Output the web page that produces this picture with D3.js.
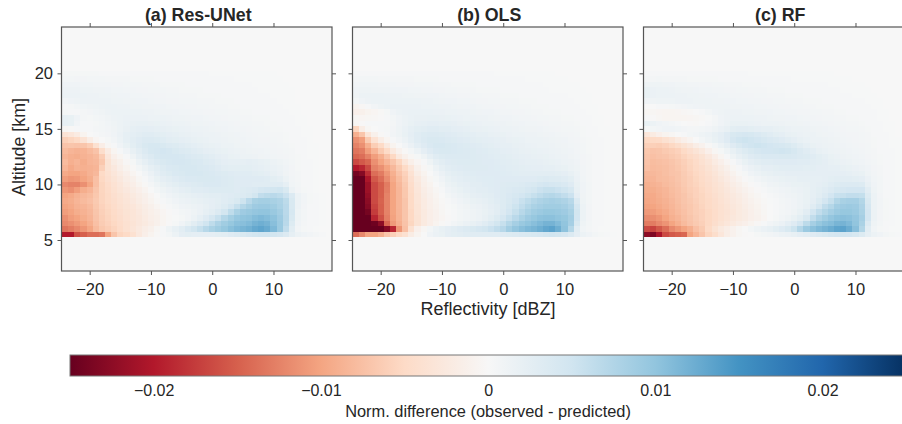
<!DOCTYPE html>
<html>
<head>
<meta charset="utf-8">
<script src="https://cdnjs.cloudflare.com/ajax/libs/d3/7.8.5/d3.min.js"></script>
<style>
  html, body { margin: 0; padding: 0; background: #fff; overflow: hidden; }
  svg { display: block; }
  text { font-family: "Liberation Sans", Arial, sans-serif; fill: #262626; }
</style>
</head>
<body>
<svg id="chart"></svg>
<script>
var panelTitles = ["(a) Res-UNet", "(b) OLS", "(c) RF"];
var xTicks = [-20, -10, 0, 10];
var yTicks = [5, 10, 15, 20];
var cbarTicks = [-0.02, -0.01, 0, 0.01, 0.02];

// cell centres of the heatmaps
var reflectivity = [-24,-23,-22,-21,-20,-19,-18,-17,-16,-15,-14,-13,-12,-11,-10,-9,-8,-7,-6,-5,-4,-3,-2,-1,0,1,2,3,4,5,6,7,8,9,10,11,12,13,14,15,16,17,18,19];
var altitudes = [20,19.5,19,18.5,18,17.5,17,16.5,16,15.5,15,14.5,14,13.5,13,12.5,12,11.5,11,10.5,10,9.5,9,8.5,8,7.5,7,6.5,6,5.5];

// normalised difference x 10^-4, one row per altitude
var resUNet = [
  [4,4,4,4,4,4,3,3,3,3,3,3,3,3,2,2,2,2,2,2,2,2,2,2,1,1,1,1,1,1,1,1,1,1,1,0,0,0,0,0,0,0,0,0],
  [6,6,7,7,6,6,6,5,5,5,5,4,4,4,4,3,3,3,3,3,3,3,2,2,2,2,2,2,1,1,1,1,1,1,1,1,0,0,0,0,0,0,0,0],
  [10,10,10,9,9,8,8,8,7,7,6,6,6,5,5,5,4,4,4,4,3,3,3,3,3,2,2,2,2,2,2,1,1,1,1,1,1,0,0,0,0,0,0,0],
  [13,13,13,12,12,11,11,10,9,9,8,8,7,7,6,6,6,5,5,4,4,4,4,3,3,3,3,2,2,2,2,2,1,1,1,1,1,1,0,0,0,0,0,0],
  [14,14,14,14,13,13,12,12,11,10,10,9,9,8,8,7,7,6,6,5,5,5,4,4,4,4,3,3,3,3,2,2,2,2,1,1,1,1,0,0,0,0,0,0],
  [8,10,12,13,13,13,13,13,12,12,11,11,10,10,9,8,8,7,7,6,6,6,5,5,5,4,4,4,3,3,3,2,2,2,2,1,1,1,0,0,0,0,0,0],
  [2,4,6,9,11,12,13,14,14,13,13,12,12,11,11,10,10,9,8,8,7,7,6,6,5,5,5,4,4,3,3,3,2,2,2,2,1,1,1,0,0,0,0,0],
  [4,3,3,5,7,9,11,13,14,15,15,14,14,13,13,12,11,11,10,9,9,8,8,7,7,6,6,5,5,4,4,3,3,3,2,2,2,1,1,0,0,0,0,0],
  [20,18,10,5,4,6,8,11,13,15,16,16,16,16,15,15,14,13,12,12,11,10,10,9,8,8,7,6,6,5,5,4,4,4,3,3,2,2,1,1,0,0,0,0],
  [20,18,8,2,2,4,6,9,12,14,17,19,20,20,19,18,17,16,15,14,13,12,12,11,10,9,9,8,7,6,6,5,5,4,4,3,3,2,1,1,0,0,0,0],
  [-4,-2,2,2,3,5,6,8,11,15,19,22,24,25,24,22,21,20,18,17,16,15,14,13,12,11,10,9,8,8,7,6,6,5,4,4,3,2,2,1,1,0,0,0],
  [-35,-30,-22,-8,0,3,5,7,10,16,22,25,28,30,30,28,26,24,22,20,19,17,16,15,14,13,12,11,10,9,8,7,6,6,5,5,4,3,2,1,1,0,0,0],
  [-60,-55,-50,-35,-18,-5,0,4,8,14,22,28,32,36,36,34,31,28,26,24,22,20,18,17,15,14,13,12,11,10,9,8,7,7,6,5,4,3,2,2,1,0,0,0],
  [-72,-70,-72,-70,-62,-40,-18,-4,3,10,18,26,33,40,42,42,40,36,34,30,28,25,22,20,18,17,15,14,12,11,10,9,8,8,7,6,5,4,3,2,1,1,0,0],
  [-80,-85,-88,-86,-80,-72,-45,-22,-6,2,10,20,28,36,42,44,46,44,40,36,34,30,27,24,22,20,18,16,14,13,12,11,10,9,8,7,6,5,3,2,1,1,0,0],
  [-85,-90,-92,-88,-85,-80,-62,-30,-14,-6,3,12,22,30,36,42,44,44,44,42,38,36,34,30,27,24,21,18,17,15,14,13,11,10,9,8,7,5,4,2,1,1,0,0],
  [-80,-90,-85,-92,-85,-82,-68,-36,-20,-12,-3,4,14,22,30,36,40,42,44,44,42,40,38,34,32,28,24,22,22,22,24,22,20,18,15,12,9,6,4,3,2,1,0,0],
  [-85,-95,-88,-90,-88,-85,-60,-36,-26,-16,-8,-2,6,14,22,28,34,38,40,42,42,42,40,38,35,32,28,26,26,26,26,24,22,20,17,14,10,7,4,3,2,1,0,0],
  [-95,-100,-100,-95,-88,-82,-50,-40,-30,-22,-14,-6,0,8,16,24,30,34,38,40,42,42,42,40,38,36,34,32,30,30,30,28,26,24,20,16,11,7,5,3,2,1,0,0],
  [-105,-110,-108,-100,-92,-75,-52,-42,-34,-26,-18,-12,-4,2,10,18,24,28,32,36,38,38,40,40,40,38,36,34,32,32,32,32,32,30,26,22,15,8,5,3,2,1,0,0],
  [-120,-125,-125,-115,-100,-75,-55,-46,-38,-30,-22,-16,-8,-2,5,12,18,22,26,30,32,34,36,38,38,38,36,34,32,32,32,30,30,30,30,30,22,9,6,3,2,1,0,0],
  [-110,-115,-105,-92,-85,-70,-55,-48,-40,-32,-26,-20,-14,-7,0,6,12,16,20,24,26,30,30,32,34,34,34,34,32,34,36,38,44,46,48,50,40,14,7,4,2,1,0,0],
  [-100,-95,-88,-82,-78,-68,-56,-50,-42,-36,-30,-24,-18,-12,-5,0,6,10,14,18,20,22,24,26,28,28,30,32,34,36,40,48,62,66,68,64,54,36,14,8,4,2,1,0],
  [-95,-92,-85,-80,-75,-66,-56,-50,-44,-38,-32,-26,-20,-14,-8,-2,2,6,10,14,16,18,20,22,24,26,30,34,40,52,68,82,85,85,82,78,66,40,14,8,4,2,1,0],
  [-100,-95,-88,-85,-80,-68,-58,-52,-46,-40,-34,-30,-24,-18,-12,-6,-2,2,6,10,12,14,16,20,24,28,34,44,58,72,82,90,92,92,88,80,68,40,14,7,3,2,1,0],
  [-105,-100,-92,-88,-82,-70,-60,-54,-48,-42,-36,-32,-26,-20,-15,-10,-5,-1,3,6,8,12,16,22,28,36,48,64,80,90,94,98,100,100,94,86,68,42,12,6,3,2,1,0],
  [-115,-105,-100,-92,-85,-72,-62,-56,-50,-44,-38,-32,-28,-22,-16,-12,-6,-2,1,4,8,14,22,32,44,56,72,85,95,100,102,108,112,108,102,90,70,40,12,6,3,2,1,0],
  [-120,-115,-108,-100,-90,-75,-64,-58,-52,-46,-40,-34,-28,-24,-18,-12,-6,-1,4,10,18,28,38,50,64,78,88,96,104,106,110,118,122,118,106,92,68,34,10,5,3,2,1,0],
  [-135,-128,-120,-110,-98,-80,-68,-62,-56,-48,-40,-32,-25,-18,-12,-4,3,12,20,28,38,48,58,70,80,88,96,105,112,116,120,128,132,126,112,92,62,28,8,4,2,1,0,0],
  [-200,-200,-160,-150,-140,-140,-135,-100,-70,-55,-50,-40,-26,-16,-8,-2,2,6,14,24,26,24,24,24,24,26,28,32,36,40,44,48,50,50,48,44,36,22,14,10,8,5,2,0]
];

var ols = [
  [3,3,3,3,3,3,3,3,3,3,3,3,2,2,2,2,2,2,2,2,2,2,2,1,1,1,1,1,1,1,1,1,1,0,0,0,0,0,0,0,0,0,0,0],
  [5,6,6,6,5,5,5,5,5,5,4,4,4,4,3,3,3,3,3,3,3,2,2,2,2,2,2,2,1,1,1,1,1,1,1,0,0,0,0,0,0,0,0,0],
  [8,9,9,9,8,8,8,7,7,7,6,6,6,5,5,5,4,4,4,4,3,3,3,3,3,2,2,2,2,2,2,1,1,1,1,1,1,0,0,0,0,0,0,0],
  [10,12,12,11,11,11,10,10,10,9,9,8,8,7,7,6,6,5,5,5,4,4,4,4,3,3,3,3,2,2,2,2,1,1,1,1,1,1,0,0,0,0,0,0],
  [11,14,14,14,14,13,13,13,12,12,11,11,10,10,9,8,8,7,7,6,6,5,5,5,4,4,4,3,3,3,3,2,2,2,2,1,1,1,1,0,0,0,0,0],
  [6,10,13,15,15,15,15,15,15,14,14,13,13,12,11,10,10,9,9,8,7,7,6,6,5,5,5,4,4,4,3,3,3,2,2,2,1,1,1,0,0,0,0,0],
  [-8,-3,3,8,12,15,16,16,16,16,16,15,15,14,13,13,12,11,10,10,9,8,8,7,7,6,6,5,5,4,4,4,3,3,3,2,2,1,1,1,0,0,0,0],
  [-14,-12,-8,-5,-2,4,10,14,16,17,17,17,17,16,16,15,14,13,13,12,11,10,10,9,8,8,7,7,6,5,5,4,4,4,3,3,2,2,1,1,0,0,0,0],
  [-4,-5,-4,-3,-1,2,6,10,14,17,19,19,20,20,19,18,17,16,15,14,13,13,12,11,10,10,9,8,8,7,6,6,5,5,4,4,3,2,2,1,1,0,0,0],
  [-4,-1,2,2,3,3,5,10,14,18,21,23,24,24,23,22,21,19,18,17,16,15,14,13,13,12,11,10,9,9,8,7,6,6,5,5,4,3,2,1,1,0,0,0],
  [-55,-18,-4,0,2,4,7,12,17,22,26,28,30,30,28,27,25,24,22,20,19,18,17,16,15,14,13,12,11,11,10,9,8,7,6,6,5,4,3,2,1,1,0,0],
  [-90,-70,-32,-12,-2,3,8,12,18,24,30,34,36,36,34,32,30,28,26,25,23,22,20,19,18,16,15,14,13,13,12,11,10,9,8,7,6,4,3,2,1,1,0,0],
  [-115,-105,-65,-38,-18,-6,2,8,14,22,30,36,40,40,38,36,34,32,30,28,26,25,24,22,21,19,18,17,15,15,14,13,12,11,10,8,7,5,4,2,2,1,0,0],
  [-125,-115,-90,-62,-50,-25,-8,0,8,16,25,32,38,42,42,40,38,36,34,32,30,28,26,24,23,22,20,19,17,16,15,14,13,12,11,9,8,6,4,3,2,1,0,0],
  [-135,-130,-105,-85,-65,-50,-25,-10,-2,6,15,24,32,38,40,40,38,37,36,34,32,31,29,27,25,24,22,20,19,18,17,16,14,13,12,10,8,6,4,3,2,1,0,0],
  [-145,-140,-125,-105,-90,-70,-52,-25,-12,-4,4,12,22,30,34,36,36,36,36,34,33,32,30,29,27,26,24,22,21,20,19,18,16,15,13,11,9,7,5,3,2,1,0,0],
  [-165,-155,-145,-115,-100,-85,-70,-55,-30,-15,-5,3,12,22,28,32,33,34,34,34,33,32,32,30,29,27,26,24,23,22,21,20,18,17,15,13,10,7,5,3,2,1,0,0],
  [-200,-190,-165,-125,-115,-100,-82,-65,-50,-30,-12,-3,4,14,22,28,30,32,33,33,33,33,32,31,30,29,28,26,25,24,24,23,22,20,18,15,12,8,5,3,2,1,0,0],
  [-240,-230,-185,-140,-130,-110,-90,-72,-58,-38,-18,-8,0,8,16,22,26,28,30,31,32,32,32,32,31,30,29,28,28,28,28,28,28,26,24,20,14,8,5,3,2,1,0,0],
  [-255,-250,-205,-155,-140,-118,-95,-78,-62,-42,-25,-12,-4,4,10,18,22,25,27,29,30,31,31,32,32,32,32,32,32,32,34,36,34,33,30,26,16,9,5,3,2,1,0,0],
  [-255,-255,-215,-165,-150,-130,-100,-82,-66,-46,-28,-15,-8,0,6,14,18,22,24,27,28,30,31,32,33,34,34,36,38,40,44,46,44,42,38,32,18,10,6,3,2,1,0,0],
  [-255,-255,-215,-165,-150,-128,-100,-84,-68,-48,-30,-18,-10,-4,3,10,14,18,22,25,27,28,30,32,34,36,38,40,44,48,54,58,58,54,50,42,20,10,6,3,2,1,0,0],
  [-255,-255,-220,-165,-150,-125,-100,-84,-68,-50,-32,-20,-12,-6,0,6,10,14,18,22,24,26,28,32,34,38,42,46,52,58,64,70,72,68,62,54,24,11,6,3,2,1,0,0],
  [-255,-255,-225,-165,-148,-125,-100,-84,-70,-50,-32,-22,-14,-8,-2,3,7,10,14,18,20,22,26,30,34,40,46,56,64,72,78,82,84,82,78,70,36,12,6,3,2,1,0,0],
  [-255,-255,-230,-170,-150,-125,-100,-84,-70,-50,-34,-22,-15,-9,-3,1,4,8,11,14,16,20,24,28,34,42,52,62,72,80,84,88,88,88,84,76,44,14,7,3,2,1,0,0],
  [-255,-255,-240,-175,-150,-125,-100,-85,-70,-52,-34,-24,-16,-10,-4,0,3,6,9,12,15,18,22,28,36,46,58,70,80,88,92,96,96,94,90,82,48,14,7,3,2,1,0,0],
  [-255,-255,-250,-190,-160,-128,-102,-86,-70,-52,-36,-24,-16,-10,-5,-1,2,6,9,12,15,20,26,34,44,56,68,80,90,96,102,104,104,100,96,86,46,14,7,3,2,1,0,0],
  [-255,-255,-255,-245,-225,-145,-108,-90,-72,-54,-36,-24,-16,-8,-2,3,8,12,16,20,24,30,38,48,58,72,84,94,100,106,112,118,118,110,100,84,40,12,6,3,2,1,0,0],
  [-255,-255,-255,-255,-255,-230,-190,-110,-75,-40,-14,-4,6,14,20,24,28,32,36,40,44,48,54,62,70,86,98,106,112,116,122,130,134,122,102,72,28,9,5,2,1,1,0,0],
  [-140,-120,-100,-100,-90,-70,-60,-50,-40,-20,-8,0,10,16,18,24,26,28,30,30,30,30,30,30,32,34,36,38,40,42,44,48,50,48,44,36,24,14,10,6,4,2,1,0]
];

var rf = [
  [3,3,3,3,3,3,3,2,2,2,2,2,2,2,2,2,2,1,1,1,1,1,1,1,1,1,1,1,1,1,1,0,0,0,0,0,0,0,0,0,0,0,0,0],
  [5,5,6,5,5,5,5,4,4,4,4,4,3,3,3,3,3,2,2,2,2,2,2,2,1,1,1,1,1,1,1,1,1,1,0,0,0,0,0,0,0,0,0,0],
  [12,12,12,11,10,9,9,8,8,7,7,6,6,5,5,5,4,4,4,3,3,3,3,3,2,2,2,2,2,2,1,1,1,1,1,1,0,0,0,0,0,0,0,0],
  [18,16,15,14,13,12,11,11,10,9,9,8,8,7,7,6,6,5,5,5,4,4,4,3,3,3,3,2,2,2,2,2,1,1,1,1,1,0,0,0,0,0,0,0],
  [18,16,15,14,14,13,13,12,12,11,10,10,9,9,8,8,7,7,6,6,5,5,5,4,4,4,3,3,3,3,2,2,2,2,1,1,1,1,0,0,0,0,0,0],
  [10,11,12,12,12,13,13,13,12,12,12,11,11,10,10,9,9,8,8,7,7,6,6,5,5,5,4,4,4,3,3,3,2,2,2,2,1,1,1,0,0,0,0,0],
  [0,0,2,3,4,5,7,9,10,11,12,12,12,12,11,11,10,10,9,9,8,8,7,7,6,6,5,5,4,4,4,3,3,3,2,2,2,1,1,0,0,0,0,0],
  [-4,-4,-5,-6,-6,-5,-3,-2,0,2,6,10,12,13,13,13,12,12,11,11,10,9,9,8,8,7,7,6,6,5,5,4,4,3,3,3,2,2,1,1,0,0,0,0],
  [2,-1,-4,-6,-6,-6,-6,-5,-4,-2,1,5,10,13,14,15,14,14,13,13,12,11,11,10,10,9,8,8,7,6,6,5,5,4,4,3,3,2,1,1,0,0,0,0],
  [18,15,10,8,5,2,0,-1,-2,0,2,6,10,15,18,18,18,17,16,15,14,14,13,12,12,11,10,9,9,8,7,6,6,5,5,4,3,3,2,1,1,0,0,0],
  [4,6,8,10,10,9,7,5,5,6,8,12,16,20,26,28,28,26,24,23,22,20,18,16,15,14,13,12,11,10,9,8,7,6,6,5,4,3,2,1,1,0,0,0],
  [-30,-22,-14,-8,-4,0,2,6,8,12,15,20,24,32,40,42,44,42,38,34,30,26,24,20,18,16,15,14,12,11,10,9,8,7,7,6,5,3,2,2,1,0,0,0],
  [-52,-50,-48,-40,-32,-22,-14,-7,0,6,12,18,24,32,44,50,52,50,46,42,38,36,32,28,24,20,17,15,14,13,12,11,9,8,7,6,5,4,3,2,1,1,0,0],
  [-60,-60,-62,-58,-52,-45,-36,-28,-18,-10,-2,6,14,22,32,40,46,50,52,50,46,44,42,40,34,28,22,18,16,14,13,12,10,9,8,7,6,4,3,2,1,1,0,0],
  [-68,-72,-70,-66,-62,-58,-50,-42,-34,-25,-14,-4,4,12,20,28,34,40,44,46,46,48,50,48,42,36,30,25,20,17,15,13,12,10,9,8,6,5,3,2,2,1,0,0],
  [-70,-75,-72,-70,-66,-62,-56,-50,-44,-36,-26,-16,-6,3,12,20,26,32,36,38,38,38,40,40,38,36,34,30,26,22,18,16,13,12,10,9,7,5,4,2,2,1,0,0],
  [-72,-78,-76,-74,-70,-66,-60,-54,-48,-40,-32,-22,-14,-5,3,10,18,24,28,30,30,32,32,32,32,30,30,28,26,24,20,18,16,14,12,10,8,6,4,3,2,1,0,0],
  [-75,-80,-78,-76,-72,-68,-62,-56,-50,-44,-36,-28,-20,-12,-4,3,10,16,20,24,24,26,28,28,28,28,26,26,24,24,22,22,20,18,16,13,10,7,5,3,2,1,0,0],
  [-82,-82,-80,-76,-72,-70,-64,-58,-52,-46,-40,-32,-24,-17,-9,-2,4,10,14,18,20,22,22,24,24,24,24,24,24,24,24,24,24,22,20,18,12,8,5,3,2,1,0,0],
  [-85,-85,-80,-78,-75,-70,-65,-60,-54,-48,-42,-35,-28,-21,-14,-7,-1,4,8,12,14,16,18,20,20,22,22,22,22,24,26,28,28,28,26,24,16,9,6,3,2,1,0,0],
  [-90,-88,-85,-80,-76,-72,-66,-60,-56,-50,-44,-38,-32,-25,-18,-12,-6,-1,3,6,10,12,14,16,18,18,20,22,24,26,30,34,36,36,36,34,20,10,6,3,2,1,0,0],
  [-92,-92,-88,-84,-78,-74,-68,-62,-58,-52,-46,-40,-34,-28,-22,-16,-10,-5,-1,2,6,8,10,12,14,16,18,22,26,30,36,42,44,46,46,46,28,12,6,3,2,1,0,0],
  [-95,-95,-90,-85,-80,-75,-70,-64,-58,-54,-48,-42,-36,-30,-25,-20,-14,-8,-4,0,3,5,8,10,12,14,18,22,28,36,46,56,58,62,62,60,34,14,7,3,2,1,0,0],
  [-98,-96,-92,-88,-82,-76,-70,-66,-60,-54,-50,-44,-38,-32,-26,-22,-16,-10,-6,-2,1,3,6,8,10,14,18,24,34,46,58,74,82,84,84,74,40,15,8,4,2,1,0,0],
  [-102,-100,-95,-90,-84,-78,-72,-68,-62,-56,-50,-45,-40,-34,-28,-24,-18,-12,-8,-3,0,3,5,8,10,14,20,30,44,62,72,86,90,92,90,78,44,15,8,4,2,1,0,0],
  [-108,-106,-100,-94,-86,-80,-74,-68,-62,-58,-52,-46,-40,-35,-30,-24,-20,-14,-9,-4,0,3,6,8,12,18,28,46,62,74,84,92,96,96,92,80,46,15,7,4,2,1,0,0],
  [-118,-116,-110,-100,-90,-84,-76,-70,-64,-58,-52,-46,-40,-34,-28,-24,-20,-14,-10,-5,0,4,8,12,18,26,40,62,78,88,98,104,106,104,98,84,46,14,7,4,2,1,0,0],
  [-130,-130,-120,-112,-100,-90,-80,-72,-66,-60,-52,-44,-36,-30,-24,-18,-14,-8,-3,2,8,12,16,24,32,46,66,84,96,104,108,116,118,112,100,80,36,12,6,3,2,1,0,0],
  [-165,-170,-155,-140,-120,-110,-100,-90,-75,-65,-50,-36,-25,-18,-10,-4,0,6,12,16,20,26,32,40,52,72,92,104,112,118,124,132,134,124,106,74,28,9,4,2,1,1,0,0],
  [-225,-235,-205,-165,-155,-150,-145,-100,-85,-70,-55,-45,-30,-18,-10,-4,-1,0,4,6,8,10,14,16,20,24,28,32,36,40,44,46,48,46,42,34,22,14,10,6,4,2,1,0]
];

var panelData = [resUNet, ols, rf];

var width = 902, height = 424;
var panelLeft = [61.5, 352.5, 643.5];
var panelWidth = 270.5, panelTop = 27, panelBottom = 271;
var spine = "#555555";

var svg = d3.select("#chart").attr("width", width).attr("height", height);

// same 11 stops as the matplotlib RdBu map
var stops = d3.schemeRdBu[11];
var color = d3.scaleLinear()
  .domain(d3.range(11).map(function(i) { return -0.025 + i * 0.005; }))
  .range(stops)
  .clamp(true);

var y = d3.scaleLinear().domain([2.21, 24.17]).range([panelBottom, panelTop]);

function styleAxis(g, size) {
  g.select(".domain").remove();
  g.selectAll(".tick line").attr("stroke", spine).attr("stroke-width", 1);
  g.selectAll(".tick text").attr("fill", "#262626").style("font-size", (size || 16.5) + "px")
    .style("font-family", '"Liberation Sans", Arial, sans-serif');
}

var label = d3.format("~g");

panelData.forEach(function(matrix, p) {
  var left = panelLeft[p], right = left + panelWidth;
  var x = d3.scaleLinear().domain([-24.6, 19.55]).range([left, right]);

  svg.append("clipPath").attr("id", "clip" + p)
    .append("rect").attr("x", left).attr("y", panelTop)
    .attr("width", panelWidth).attr("height", panelBottom - panelTop);

  var holder = svg.append("g").attr("clip-path", "url(#clip" + p + ")");
  holder.append("rect")
    .attr("x", left).attr("y", panelTop)
    .attr("width", panelWidth).attr("height", panelBottom - panelTop)
    .attr("fill", color(0));

  // soft edges like the resampled original
  var cells = holder.append("g").style("filter", "blur(0.4px)");
  matrix.forEach(function(row, r) {
    var alt = altitudes[r];
    cells.selectAll(null)
      .data(row)
      .enter().append("rect")
        .attr("x", function(d, i) { return x(reflectivity[i] - 0.5); })
        .attr("width", function(d, i) { return x(reflectivity[i] + 0.5) - x(reflectivity[i] - 0.5); })
        .attr("y", y(alt + 0.25))
        .attr("height", y(alt - 0.25) - y(alt + 0.25))
        .attr("shape-rendering", "crispEdges")
        .attr("fill", function(d) { return color(d * 1e-4); });
  });

  svg.append("g").attr("transform", "translate(0," + panelBottom + ")")
    .call(d3.axisBottom(x).tickValues(xTicks).tickSize(4).tickPadding(8).tickFormat(label))
    .call(styleAxis);
  svg.append("g").attr("transform", "translate(0," + panelTop + ")")
    .call(d3.axisTop(x).tickValues(xTicks).tickSize(4).tickFormat(""))
    .call(styleAxis);
  svg.append("g").attr("transform", "translate(" + left + ",0)")
    .call(d3.axisLeft(y).tickValues(yTicks).tickSize(4).tickPadding(4.5).tickFormat(p == 0 ? label : ""))
    .call(styleAxis);
  svg.append("g").attr("transform", "translate(" + right + ",0)")
    .call(d3.axisRight(y).tickValues(yTicks).tickSize(4).tickFormat(""))
    .call(styleAxis);

  svg.append("rect")
    .attr("x", left).attr("y", panelTop)
    .attr("width", panelWidth).attr("height", panelBottom - panelTop)
    .attr("fill", "none").attr("stroke", spine).attr("stroke-width", 1.2);

  svg.append("text")
    .attr("x", (left + right) / 2 + 1.5).attr("y", 21)
    .attr("text-anchor", "middle")
    .style("font-size", "17.8px").style("font-weight", "bold")
    .text(panelTitles[p]);
});

svg.append("text")
  .attr("transform", "translate(25,147) rotate(-90)")
  .attr("text-anchor", "middle")
  .style("font-size", "17.8px")
  .text("Altitude [km]");

svg.append("text")
  .attr("x", 488).attr("y", 315)
  .attr("text-anchor", "middle")
  .style("font-size", "18px")
  .text("Reflectivity [dBZ]");

// colour bar
var cbarX = d3.scaleLinear().domain([-0.025, 0.025]).range([70, 906.2]);
var cbarTop = 355, cbarHeight = 21;

var grad = svg.append("linearGradient").attr("id", "cbar")
  .attr("x1", "0").attr("y1", "0").attr("x2", "1").attr("y2", "0");
grad.selectAll("stop")
  .data(stops)
  .enter().append("stop")
    .attr("offset", function(d, i) { return (i * 10) + "%"; })
    .attr("stop-color", function(d) { return d; });

svg.append("rect")
  .attr("x", cbarX.range()[0]).attr("y", cbarTop)
  .attr("width", cbarX.range()[1] - cbarX.range()[0]).attr("height", cbarHeight)
  .attr("fill", "url(#cbar)")
  .attr("stroke", "#777777").attr("stroke-width", 1);

svg.append("g").attr("transform", "translate(0," + (cbarTop + cbarHeight) + ")")
  .call(d3.axisBottom(cbarX).tickValues(cbarTicks).tickSize(0).tickPadding(9).tickFormat(label))
  .call(function(g) { styleAxis(g, 16); });

svg.append("text")
  .attr("x", 488).attr("y", 417)
  .attr("text-anchor", "middle")
  .style("font-size", "16.4px")
  .text("Norm. difference (observed - predicted)");
</script>
</body>
</html>
